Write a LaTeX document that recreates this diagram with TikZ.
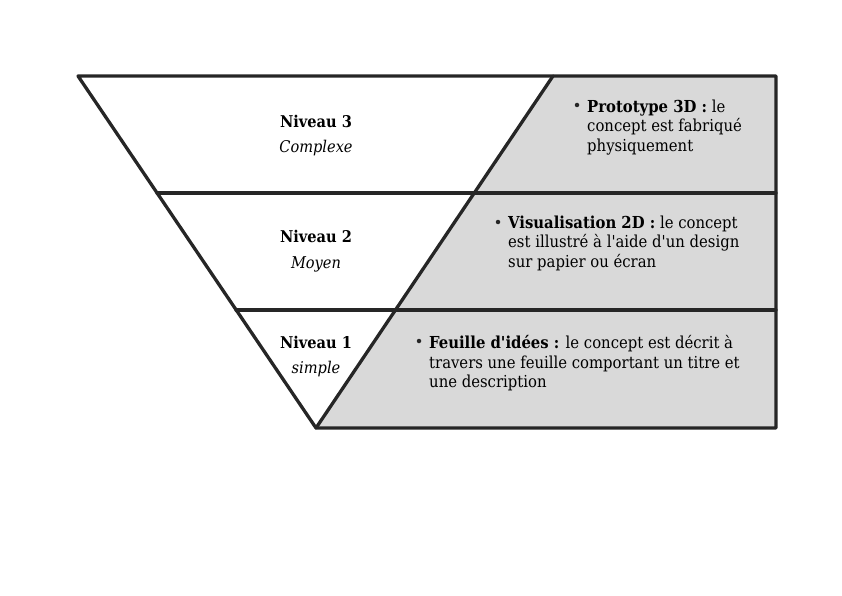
\documentclass[tikz,border=0pt]{standalone}
\usepackage{fontspec}
\setmainfont{DejaVu Serif Condensed}
\definecolor{linec}{HTML}{262626}
\definecolor{grayfill}{HTML}{D9D9D9}
\newcommand{\aq}{\textquotesingle}
\tikzset{
  edge/.style={draw=linec, line width=3.3pt, line cap=round, line join=round},
  lvl/.style={font=\fontsize{16.2}{20}\selectfont, anchor=base, inner sep=0pt},
  desc/.style={font=\fontsize{16.5}{19.6}\selectfont, align=left, anchor=north west, inner sep=0pt},
  bul/.style={circle, fill=linec, inner sep=0pt, minimum size=4.5pt}
}
\begin{document}
\begin{tikzpicture}[x=1pt, y=-1pt]
\useasboundingbox (0,0) rectangle (842,596);
\coordinate (TL) at (78,76);
\coordinate (TM) at (553,76);
\coordinate (TR) at (776,76);
\coordinate (BR) at (776,428);
\coordinate (AP) at (316,428);
\coordinate (L2) at (157,193);
\coordinate (R2) at (776,193);
\coordinate (L1) at (236,310);
\coordinate (R1) at (776,310);
\fill[grayfill] (TM) -- (TR) -- (BR) -- (AP) -- cycle;
\draw[edge] (TL) -- (TR) -- (BR) -- (AP) -- cycle;
\draw[edge] (TM) -- (AP);
\draw[edge] (L2) -- (R2);
\draw[edge] (L1) -- (R1);
% level labels
\node[lvl] (n3) at (316,128) {\textbf{Niveau 3}};
\node[lvl] (c3) at (316,153) {\textit{Complexe}};
\node[lvl] (n2) at (316,242) {\textbf{Niveau 2}};
\node[lvl] (c2) at (316,268) {\textit{Moyen}};
\node[lvl] (n1) at (316,348) {\textbf{Niveau 1}};
\node[lvl] (c1) at (316,373) {\textit{simple}};
% descriptions
\node[bul] (b3) at (577,105) {};
\node[desc] (d3) at (587,99.5) {\textbf{Prototype 3D :} le\\concept est fabriqué\\physiquement};
\node[bul] (b2) at (498,222) {};
\node[desc] (d2) at (508,215.5) {\textbf{Visualisation 2D :} le concept\\est illustré à l\aq aide d\aq un design\\sur papier ou écran};
\node[bul] (b1) at (419,341) {};
\node[desc] (d1) at (429,335) {\textbf{Feuille d\aq idées :} le concept est décrit à\\travers une feuille comportant un titre et\\une description};
\end{tikzpicture}
\end{document}
